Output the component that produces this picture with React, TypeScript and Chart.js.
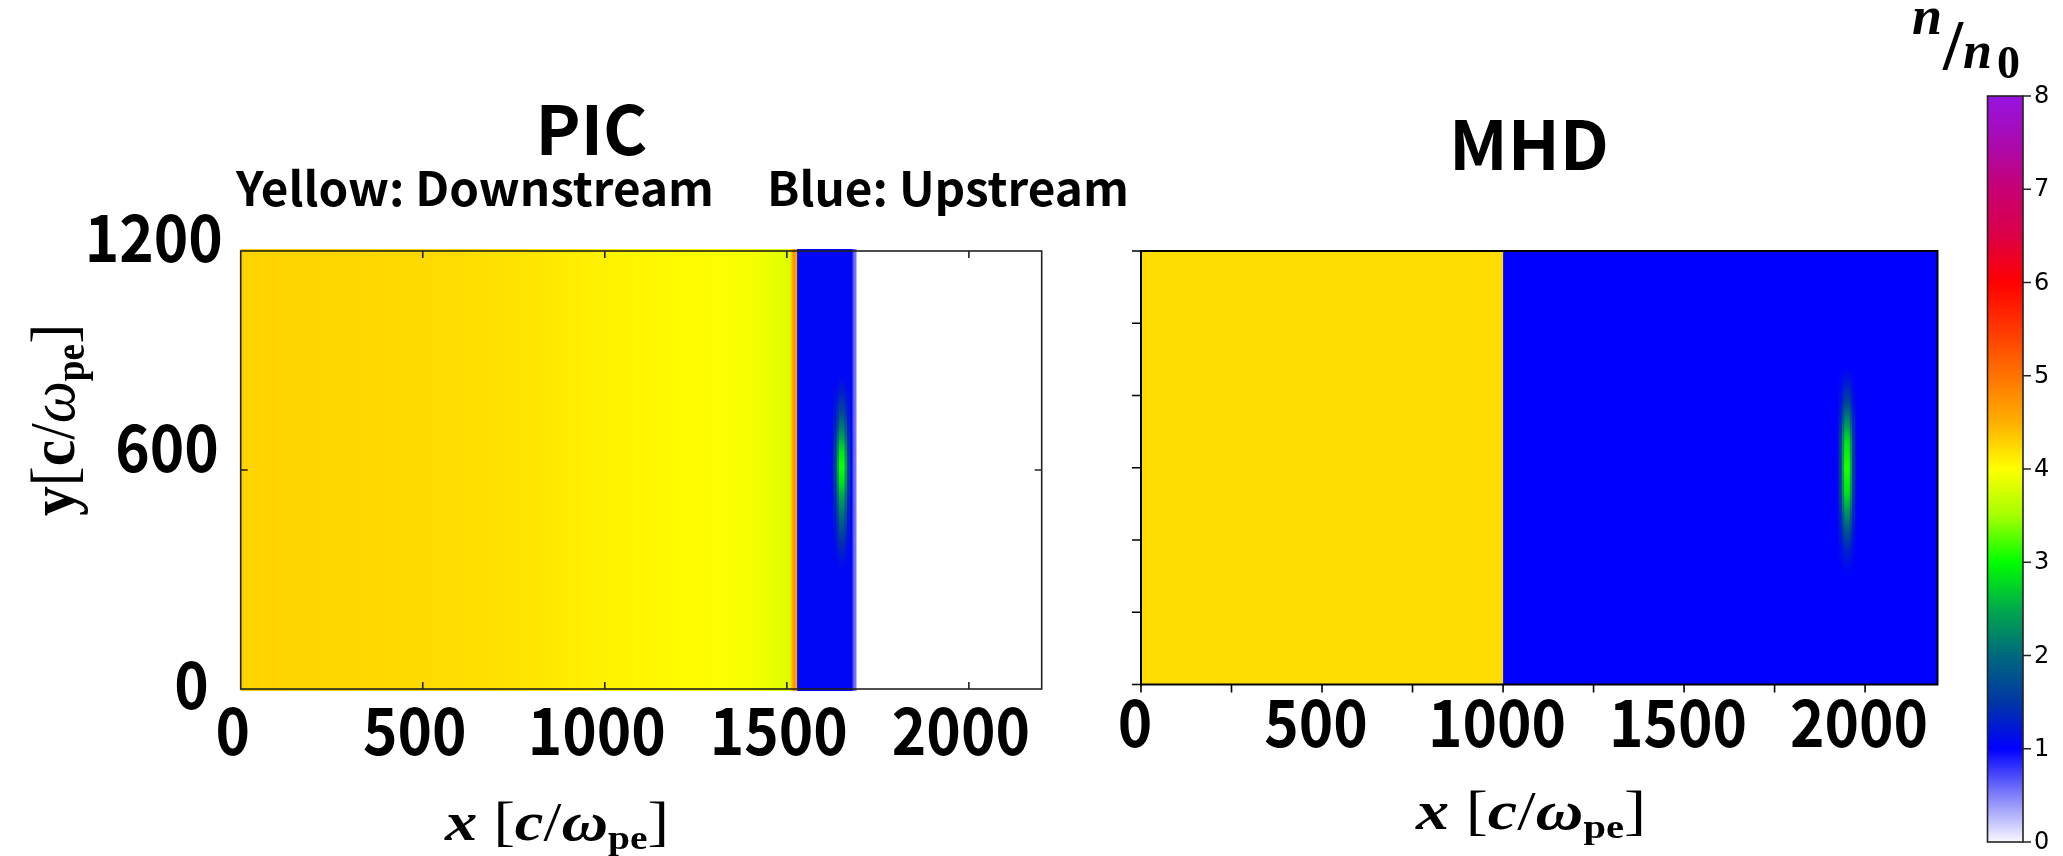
import React, { useEffect, useRef } from 'react';
import { Chart, registerables } from 'chart.js';

Chart.register(...registerables);

const W = 2063;
const H = 856;

// ---------- colour map (n/n0 -> colour) ----------
const cmapValues = [0, 0.5, 1, 1.5, 2, 2.5, 3, 3.5, 4, 4.5, 5, 5.5, 6, 6.5, 7, 7.5, 8];
const cmapColors = [
  '#f8f8ff', '#8080fa', '#0000ff', '#0037a5', '#00697d', '#00aa4b', '#00ff00', '#a5ff00',
  '#ffff00', '#ffaf00', '#ff7300', '#ff3700', '#ff0000', '#dc0046', '#c80073', '#aa0aaf', '#9614e1',
];
const cbRange = [0, 8];
const cbTicks = [0, 1, 2, 3, 4, 5, 6, 7, 8];

// ---------- PIC panel ----------
const picXRange = [0, 2200];
const picYRange = [0, 1200];
const picImageY = [-6, 1206];
// density profile along x (n/n0)
const picProfileX = [0, 12, 300, 600, 800, 1000, 1200, 1320, 1400, 1460, 1508, 1513, 1520, 1527, 1529.5, 1540, 1678, 1684, 1692];
const picProfileN = [4.35, 4.27, 4.25, 4.22, 4.16, 4.08, 4.03, 3.99, 3.95, 3.88, 3.8, 4.35, 4.8, 4.5, 1.1, 1.05, 1.05, 0.6, 0.5];
// density bump in the upstream band
const picBlobCenterX = 1651;
const picBlobHalfWidths = [24, 15, 8];
const picBlobY = [300, 340, 400, 460, 520, 570, 610, 650, 700, 760, 820, 860];
const picBlobOuter = [1.05, 1.05, 1.1, 1.2, 1.35, 1.5, 1.55, 1.5, 1.35, 1.18, 1.08, 1.05];
const picBlobInner = [1.05, 1.08, 1.3, 1.6, 1.95, 2.3, 2.45, 2.3, 1.9, 1.45, 1.15, 1.05];
const picBlobCore = [1.05, 1.1, 1.45, 1.9, 2.4, 2.85, 3.05, 2.85, 2.3, 1.65, 1.25, 1.05];
const picXTicks = [0, 500, 1000, 1500, 2000];
const picYTicks = [0, 600, 1200];
const picYLabelDy = [9, -9, 0];
const picYLabelDx = [-14, -4, 0];

// ---------- MHD panel ----------
const mhdXRange = [0, 2200];
const mhdYRange = [0, 1200];
const mhdRegionEdges = [0, 1000, 2200];
const mhdRegionN = [4.22, 1.0];
const mhdBlobCenterX = 1950;
const mhdBlobHalfWidths = [24, 15, 8];
const mhdBlobY = [290, 320, 370, 420, 480, 530, 600, 670, 720, 780, 840, 880];
const mhdBlobOuter = [1.0, 1.02, 1.08, 1.2, 1.35, 1.5, 1.55, 1.5, 1.35, 1.15, 1.05, 1.0];
const mhdBlobInner = [1.0, 1.04, 1.22, 1.55, 1.95, 2.3, 2.5, 2.3, 1.95, 1.45, 1.15, 1.0];
const mhdBlobCore = [1.0, 1.05, 1.3, 1.75, 2.35, 2.85, 3.1, 2.85, 2.35, 1.65, 1.22, 1.0];
const mhdXTicks = [0, 250, 500, 750, 1000, 1250, 1500, 1750, 2000];
const mhdXLabels = [0, 500, 1000, 1500, 2000];
const mhdYTicks = [0, 200, 400, 600, 800, 1000, 1200];

// ---------- texts ----------
const picTitle = 'PIC';
const picSubLeft = 'Yellow: Downstream';
const picSubRight = 'Blue: Upstream';
const mhdTitle = 'MHD';

const SANS = '"Noto Sans CJK JP", "Noto Sans", sans-serif';
const SERIF = '"Liberation Serif", "DejaVu Serif", serif';
const CBFONT = '"DejaVu Sans", sans-serif';

type Seg = { t: string; s: string; sub?: boolean };
const xLabelSegs: Seg[] = [
  { t: 'x', s: 'italic bold' }, { t: ' [', s: 'normal' }, { t: 'c', s: 'italic bold' },
  { t: '/', s: 'normal' }, { t: 'ω', s: 'italic bold' }, { t: 'pe', s: 'bold', sub: true }, { t: ']', s: 'normal' },
];
const yLabelSegs: Seg[] = [
  { t: 'y', s: 'bold' }, { t: '[', s: 'normal' }, { t: 'c', s: 'bold' },
  { t: '/', s: 'normal' }, { t: 'ω', s: 'italic' }, { t: 'pe', s: 'bold', sub: true }, { t: ']', s: 'normal' },
];

// ---------- helpers ----------
function hexToRgb(h: string): number[] {
  return [parseInt(h.slice(1, 3), 16), parseInt(h.slice(3, 5), 16), parseInt(h.slice(5, 7), 16)];
}
function colorAt(n: number): string {
  let c = hexToRgb(cmapColors[cmapColors.length - 1]);
  if (n <= cmapValues[0]) c = hexToRgb(cmapColors[0]);
  else {
    for (let i = 1; i < cmapValues.length; i++) {
      if (n <= cmapValues[i]) {
        const t = (n - cmapValues[i - 1]) / (cmapValues[i] - cmapValues[i - 1]);
        const a = hexToRgb(cmapColors[i - 1]);
        const b = hexToRgb(cmapColors[i]);
        c = a.map((v, k) => Math.round(v + (b[k] - v) * t));
        break;
      }
    }
  }
  return `rgb(${c[0]},${c[1]},${c[2]})`;
}

function gradientAlong(axis: 'x' | 'y', pos: number[], vals: number[], direct = false) {
  return (ctx: any) => {
    const chart = ctx.chart;
    const toColor = (v: number, i: number) => (direct ? cmapColors[i] : colorAt(v));
    if (!chart.chartArea) return toColor(vals[0], 0);
    const sc = chart.scales[axis];
    const p0 = sc.getPixelForValue(pos[0]);
    const p1 = sc.getPixelForValue(pos[pos.length - 1]);
    const g = axis === 'x'
      ? chart.ctx.createLinearGradient(p0, 0, p1, 0)
      : chart.ctx.createLinearGradient(0, p0, 0, p1);
    pos.forEach((p, i) => {
      const f = Math.min(1, Math.max(0, (sc.getPixelForValue(p) - p0) / (p1 - p0)));
      g.addColorStop(f, toColor(vals[i], i));
    });
    return g;
  };
}

function rect(x0: number, x1: number, y0: number, y1: number, bg: any, order: number) {
  return {
    type: 'line',
    data: [{ x: x0, y: y1 }, { x: x1, y: y1 }],
    fill: { value: y0 },
    backgroundColor: bg,
    borderColor: 'rgba(0,0,0,0)',
    borderWidth: 0,
    pointRadius: 0,
    pointHoverRadius: 0,
    tension: 0,
    order,
  };
}

function blobSets(cx: number, halfW: number[], ys: number[], profiles: number[][]) {
  return halfW.map((hw, k) =>
    rect(cx - hw, cx + hw, ys[0], ys[ys.length - 1], gradientAlong('y', ys, profiles[k]), 3 - k));
}

function drawText(ctx: CanvasRenderingContext2D, text: string, x: number, y: number, font: string,
  align: 'left' | 'center' | 'right', targetW?: number, baseline: CanvasTextBaseline = 'alphabetic', scaleX = 1) {
  ctx.save();
  ctx.font = font;
  ctx.textBaseline = baseline;
  ctx.textAlign = 'left';
  ctx.fillStyle = '#000';
  const w = ctx.measureText(text).width;
  const sx = targetW ? targetW / w : scaleX;
  const dw = w * sx;
  const left = align === 'left' ? x : align === 'center' ? x - dw / 2 : x - dw;
  ctx.translate(left, y);
  ctx.scale(sx, 1);
  ctx.fillText(text, 0, 0);
  ctx.restore();
}

function drawRich(ctx: CanvasRenderingContext2D, segs: Seg[], size: number, x: number, y: number,
  targetW: number, rotate = 0) {
  ctx.save();
  const fontOf = (s: Seg) => `${s.s} ${s.sub ? Math.round(size * 0.62) : size}px ${SERIF}`;
  let w = 0;
  for (const s of segs) { ctx.font = fontOf(s); w += ctx.measureText(s.t).width; }
  const sx = targetW / w;
  ctx.translate(x, y);
  if (rotate) ctx.rotate(rotate);
  ctx.translate(-targetW / 2, 0);
  ctx.scale(sx, 1);
  ctx.fillStyle = '#000';
  ctx.textBaseline = 'alphabetic';
  ctx.textAlign = 'left';
  let cx = 0;
  for (const s of segs) {
    ctx.font = fontOf(s);
    ctx.fillText(s.t, cx, s.sub ? size * 0.16 : 0);
    cx += ctx.measureText(s.t).width;
  }
  ctx.restore();
}

function baseOptions(xr: number[], yr: number[], pad: any, plugin: any) {
  return {
    type: 'line',
    options: {
      responsive: false,
      maintainAspectRatio: false,
      devicePixelRatio: 1,
      animation: false,
      events: [],
      layout: { padding: pad },
      scales: {
        x: { type: 'linear', min: xr[0], max: xr[1], display: false },
        y: { type: 'linear', min: yr[0], max: yr[1], display: false },
      },
      plugins: { legend: { display: false }, tooltip: { enabled: false }, title: { display: false } },
    },
    plugins: [plugin],
  };
}

const TICK_FONT = `bold 65px ${SANS}`;
const TICK_SX = 0.9;

// ---------- PIC chart ----------
const picDecor = {
  id: 'picDecor',
  afterDatasetsDraw(chart: any) {
    const ctx: CanvasRenderingContext2D = chart.ctx;
    const xs = chart.scales.x;
    const ys = chart.scales.y;
    const L = xs.getPixelForValue(picXRange[0]);
    const R = xs.getPixelForValue(picXRange[1]);
    const T = ys.getPixelForValue(picYRange[1]);
    const B = ys.getPixelForValue(picYRange[0]);
    ctx.save();
    ctx.strokeStyle = '#222';
    ctx.lineWidth = 1.6;
    ctx.strokeRect(L, T, R - L, B - T);
    ctx.beginPath();
    for (const v of picXTicks) {
      if (v === picXRange[0]) continue;
      const p = xs.getPixelForValue(v);
      ctx.moveTo(p, B); ctx.lineTo(p, B - 7);
      ctx.moveTo(p, T); ctx.lineTo(p, T + 7);
    }
    for (const v of picYTicks) {
      if (v === picYRange[0] || v === picYRange[1]) continue;
      const p = ys.getPixelForValue(v);
      ctx.moveTo(L, p); ctx.lineTo(L + 7, p);
      ctx.moveTo(R, p); ctx.lineTo(R - 7, p);
    }
    ctx.stroke();
    ctx.restore();

    for (const v of picXTicks) {
      drawText(ctx, String(v), xs.getPixelForValue(v) - 8, B + 66, TICK_FONT, 'center', undefined, 'alphabetic', TICK_SX);
    }
    picYTicks.forEach((v, i) => {
      drawText(ctx, String(v), L - 18 + picYLabelDx[i], ys.getPixelForValue(v) + 11 + picYLabelDy[i],
        TICK_FONT, 'right', undefined, 'alphabetic', TICK_SX);
    });

    drawText(ctx, picTitle, 591.5, 155, `bold 68px ${SANS}`, 'center', 112);
    drawText(ctx, picSubLeft, 236, 206, `bold 47px ${SANS}`, 'left', 478);
    drawText(ctx, picSubRight, 767, 206, `bold 47px ${SANS}`, 'left', 362);
    drawRich(ctx, xLabelSegs, 54, 557, 840, 224);
    drawRich(ctx, yLabelSegs, 64, 74, 420, 192, -Math.PI / 2);
  },
};

function picConfig(): any {
  const cfg: any = baseOptions(picXRange, picImageY,
    { left: 240.7, right: W - 1041.7, top: 248.8, bottom: H - 691.2 }, picDecor);
  cfg.data = {
    datasets: [
      rect(picProfileX[0], picProfileX[picProfileX.length - 1], picImageY[0], picImageY[1],
        gradientAlong('x', picProfileX, picProfileN), 10),
      ...blobSets(picBlobCenterX, picBlobHalfWidths, picBlobY, [picBlobOuter, picBlobInner, picBlobCore]),
    ],
  };
  return cfg;
}

// ---------- MHD chart ----------
const mhdDecor = {
  id: 'mhdDecor',
  afterDatasetsDraw(chart: any) {
    const ctx: CanvasRenderingContext2D = chart.ctx;
    const xs = chart.scales.x;
    const ys = chart.scales.y;
    const L = xs.getPixelForValue(mhdXRange[0]);
    const R = xs.getPixelForValue(mhdXRange[1]);
    const T = ys.getPixelForValue(mhdYRange[1]);
    const B = ys.getPixelForValue(mhdYRange[0]);
    ctx.save();
    ctx.strokeStyle = '#000';
    ctx.lineWidth = 2;
    ctx.strokeRect(L, T, R - L, B - T);
    ctx.lineWidth = 1.6;
    ctx.beginPath();
    for (const v of mhdXTicks) {
      const p = xs.getPixelForValue(v);
      ctx.moveTo(p, B); ctx.lineTo(p, B + 8);
    }
    for (const v of mhdYTicks) {
      const p = ys.getPixelForValue(v);
      ctx.moveTo(L, p); ctx.lineTo(L - 9, p);
    }
    ctx.stroke();
    ctx.restore();

    for (const v of mhdXLabels) {
      drawText(ctx, String(v), xs.getPixelForValue(v) - 6, B + 62, TICK_FONT, 'center', undefined, 'alphabetic', TICK_SX);
    }
    drawText(ctx, mhdTitle, 1529, 170, `bold 68px ${SANS}`, 'center', 160);
    drawRich(ctx, xLabelSegs, 54, 1531, 829, 230);
  },
};

function mhdConfig(): any {
  const cfg: any = baseOptions(mhdXRange, mhdYRange,
    { left: 1141, right: W - 1937.5, top: 251, bottom: H - 684.5 }, mhdDecor);
  const regions = mhdRegionN.map((n, i) =>
    rect(mhdRegionEdges[i], mhdRegionEdges[i + 1], mhdYRange[0], mhdYRange[1], colorAt(n), 10 + i));
  cfg.data = {
    datasets: [
      ...regions,
      ...blobSets(mhdBlobCenterX, mhdBlobHalfWidths, mhdBlobY, [mhdBlobOuter, mhdBlobInner, mhdBlobCore]),
    ],
  };
  return cfg;
}

// ---------- colour bar chart ----------
const cbDecor = {
  id: 'cbDecor',
  afterDatasetsDraw(chart: any) {
    const ctx: CanvasRenderingContext2D = chart.ctx;
    const xs = chart.scales.x;
    const ys = chart.scales.y;
    const L = xs.getPixelForValue(0);
    const R = xs.getPixelForValue(1);
    const T = ys.getPixelForValue(cbRange[1]);
    const B = ys.getPixelForValue(cbRange[0]);
    ctx.save();
    ctx.strokeStyle = '#222';
    ctx.lineWidth = 1.6;
    ctx.strokeRect(L, T, R - L, B - T);
    ctx.beginPath();
    for (const v of cbTicks) {
      const p = ys.getPixelForValue(v);
      ctx.moveTo(R, p); ctx.lineTo(R + 8, p);
    }
    ctx.stroke();
    ctx.restore();
    for (const v of cbTicks) {
      drawText(ctx, String(v), R + 11, ys.getPixelForValue(v) + 1, `24px ${CBFONT}`, 'left', undefined, 'middle');
    }
    // title n / n0
    drawText(ctx, 'n', 1912, 34, `italic bold 54px ${SERIF}`, 'left');
    drawText(ctx, '/', 1943, 69, `bold 72px ${SERIF}`, 'left');
    drawText(ctx, 'n', 1963, 68, `italic bold 52px ${SERIF}`, 'left');
    drawText(ctx, '0', 1997, 78, `bold 46px ${SERIF}`, 'left');
  },
};

function cbConfig(): any {
  const cfg: any = baseOptions([0, 1], cbRange,
    { left: 1987.5, right: W - 2023, top: 96, bottom: H - 842 }, cbDecor);
  cfg.data = {
    datasets: [rect(0, 1, cbRange[0], cbRange[1], gradientAlong('y', cmapValues, cmapValues, true), 1)],
  };
  return cfg;
}

export default function App() {
  const picRef = useRef<HTMLCanvasElement>(null);
  const mhdRef = useRef<HTMLCanvasElement>(null);
  const cbRef = useRef<HTMLCanvasElement>(null);

  useEffect(() => {
    const charts = [
      new Chart(picRef.current as HTMLCanvasElement, picConfig()),
      new Chart(mhdRef.current as HTMLCanvasElement, mhdConfig()),
      new Chart(cbRef.current as HTMLCanvasElement, cbConfig()),
    ];
    return () => charts.forEach((c) => c.destroy());
  }, []);

  const cs: React.CSSProperties = { position: 'absolute', left: 0, top: 0, width: W, height: H };
  return (
    <div style={{ position: 'fixed', left: 0, top: 0, width: W, height: H, background: '#fff', overflow: 'hidden' }}>
      <canvas ref={picRef} width={W} height={H} style={cs} />
      <canvas ref={mhdRef} width={W} height={H} style={cs} />
      <canvas ref={cbRef} width={W} height={H} style={cs} />
    </div>
  );
}
